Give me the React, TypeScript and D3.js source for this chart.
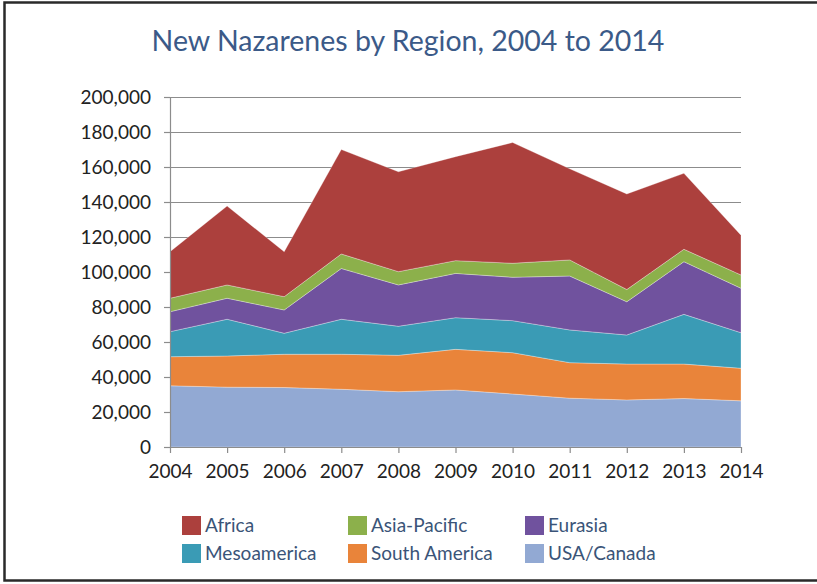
import React, { useRef, useEffect } from "react";
import * as d3 from "d3";

const years = [2004, 2005, 2006, 2007, 2008, 2009, 2010, 2011, 2012, 2013, 2014];
const regions = ["USA/Canada", "South America", "Mesoamerica", "Eurasia", "Asia-Pacific", "Africa"];

const usaCanada = [35000, 34200, 34000, 33000, 31600, 32600, 30300, 27900, 26900, 27700, 26400];
const southAmerica = [16600, 17800, 19000, 20000, 20800, 23200, 23600, 20300, 20500, 19700, 18600];
const mesoamerica = [14300, 21000, 12000, 20000, 16600, 18100, 18300, 18700, 16600, 28400, 20300];
const eurasia = [11400, 12000, 13300, 29000, 23600, 25300, 24800, 30800, 19000, 30100, 25400];
const asiaPacific = [7700, 7600, 7600, 8300, 7600, 7300, 8000, 9200, 7000, 7100, 7600];
const africa = [26600, 45100, 25700, 59700, 57100, 59400, 69000, 52100, 54600, 43400, 22700];

const yTicks = [0, 20000, 40000, 60000, 80000, 100000, 120000, 140000, 160000, 180000, 200000];
const legendOrder = ["Africa", "Asia-Pacific", "Eurasia", "Mesoamerica", "South America", "USA/Canada"];

const colors: Record<string, string> = {
  Africa: "#AC403D",
  "Asia-Pacific": "#8CB04B",
  Eurasia: "#70529E",
  Mesoamerica: "#3A9BB5",
  "South America": "#E9843A",
  "USA/Canada": "#92A9D3",
};

const Chart = () => {
  const svgRef = useRef<SVGSVGElement>(null);

  useEffect(() => {
    if (!svgRef.current) return;
    const series = [usaCanada, southAmerica, mesoamerica, eurasia, asiaPacific, africa];
    const table = years.map((year, i) => {
      const row: any = { year };
      regions.forEach((r, k) => (row[r] = series[k][i]));
      return row;
    });

    const W = 817;
    const H = 584;
    const margin = { top: 97, right: 76, bottom: 137, left: 170 };

    const svg = d3.select(svgRef.current).attr("width", W).attr("height", H);
    svg.selectAll("*").remove();

    // frame
    svg.append("rect").attr("width", W).attr("height", H).attr("fill", "#fff");
    svg
      .append("path")
      .attr("d", `M${W},2.5 H4.5 V580.5 H${W}`)
      .attr("fill", "none")
      .attr("stroke", "#2a2a2a")
      .attr("stroke-width", 2.5);

    const x = d3
      .scaleLinear()
      .domain([2004, 2014])
      .range([margin.left, W - margin.right]);
    const y = d3
      .scaleLinear()
      .domain([0, 200000])
      .range([H - margin.bottom, margin.top]);

    const font = "Lato, 'Open Sans', sans-serif";

    svg
      .append("text")
      .attr("x", 408)
      .attr("y", 51)
      .attr("text-anchor", "middle")
      .attr("font-family", font)
      .attr("font-size", 28.5)
      .attr("fill", "#3B5A88")
      .text("New Nazarenes by Region, 2004 to 2014");

    // gridlines
    svg
      .append("g")
      .selectAll("line")
      .data(yTicks.filter((t) => t > 0))
      .enter()
      .append("line")
      .attr("x1", margin.left)
      .attr("x2", W - margin.right)
      .attr("y1", (d) => Math.round(y(d)) + 0.5)
      .attr("y2", (d) => Math.round(y(d)) + 0.5)
      .attr("stroke", "#8c8c8c")
      .attr("stroke-width", 1.2);

    const stack = d3.stack().keys(regions);
    const layers = stack(table);

    const area = d3
      .area<any>()
      .x((d) => x(d.data.year))
      .y0((d) => y(d[0]))
      .y1((d) => y(d[1]));

    svg
      .append("g")
      .selectAll("path")
      .data(layers)
      .enter()
      .append("path")
      .attr("d", area)
      .attr("fill", (d) => colors[d.key])
      .attr("stroke", "rgba(255,255,255,0.3)")
      .attr("stroke-width", 1);

    const yAxis = svg
      .append("g")
      .attr("transform", `translate(${margin.left},0)`)
      .call(
        d3
          .axisLeft(y)
          .tickValues(yTicks)
          .tickSize(6)
          .tickPadding(13)
          .tickFormat((d) => d3.format(",")(d as number))
      );
    yAxis.select(".domain").attr("stroke", "#8c8c8c").attr("stroke-width", 1.2);
    yAxis.selectAll(".tick line").attr("stroke", "#8c8c8c").attr("stroke-width", 1.2);
    yAxis
      .selectAll(".tick text")
      .attr("font-family", font)
      .attr("font-size", 19)
      .attr("fill", "#222");

    const xAxis = svg
      .append("g")
      .attr("transform", `translate(0,${H - margin.bottom})`)
      .call(
        d3
          .axisBottom(x)
          .tickValues(years)
          .tickSize(6)
          .tickSizeOuter(0)
          .tickPadding(12)
          .tickFormat((d) => String(d))
      );
    xAxis.select(".domain").attr("stroke", "#8c8c8c").attr("stroke-width", 1.2);
    xAxis.selectAll(".tick line").attr("stroke", "#8c8c8c").attr("stroke-width", 1.2);
    xAxis
      .selectAll(".tick text")
      .attr("font-family", font)
      .attr("font-size", 19)
      .attr("fill", "#222");

    // legend
    const legend = svg.append("g");
    const colX = [182, 348, 525];
    const rowY = [516, 544];
    legendOrder.forEach((name, i) => {
      const cx = colX[i % 3];
      const cy = rowY[Math.floor(i / 3)];
      legend
        .append("rect")
        .attr("x", cx)
        .attr("y", cy)
        .attr("width", 19)
        .attr("height", 19)
        .attr("fill", colors[name]);
      legend
        .append("text")
        .attr("x", cx + 23)
        .attr("y", cy + 16)
        .attr("font-family", font)
        .attr("font-size", 19)
        .attr("fill", "#3A5478")
        .text(name);
    });
  }, []);

  return <svg ref={svgRef}></svg>;
};

export default function App() {
  return (
    <div style={{ position: "absolute", left: 0, top: 0 }}>
      <Chart />
    </div>
  );
}
